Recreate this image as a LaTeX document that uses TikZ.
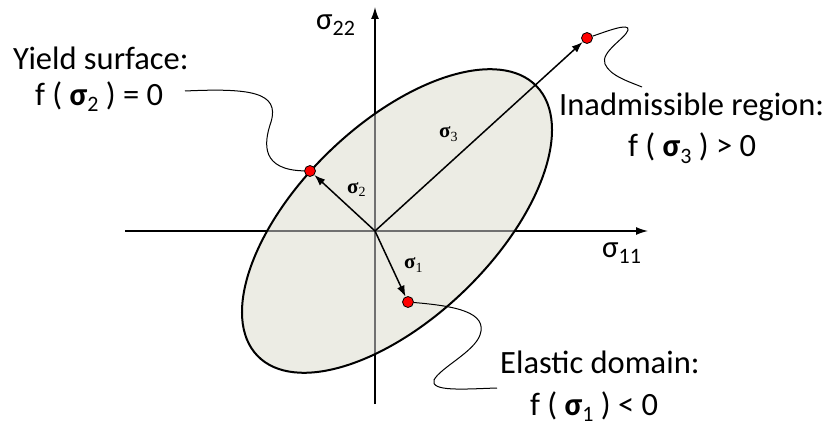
\documentclass[tikz,border=0pt]{standalone}
\usepackage{fontspec}
\setmainfont{Carlito}
\newfontfamily\serifsig{Liberation Serif}
\usetikzlibrary{arrows.meta}
\definecolor{fillc}{HTML}{ECECE4}
\definecolor{axgray}{HTML}{707070}
\newcommand{\subsc}[1]{\raisebox{-6pt}{\fontsize{22}{22}\selectfont #1}}
\newcommand{\vlab}[1]{{\serifsig\fontsize{21}{21}\selectfont\textbf{σ}\raisebox{-4pt}{\fontsize{14}{14}\selectfont #1}}}
\tikzset{
  txt/.style={inner sep=0pt, anchor=base west, font=\fontsize{32.5}{38}\selectfont},
  axtxt/.style={inner sep=0pt, anchor=base west, font=\fontsize{31}{36}\selectfont},
  vtxt/.style={inner sep=0pt, anchor=base west},
  dot/.style={circle, draw=black, fill=red, line width=0.8pt, inner sep=0pt, minimum size=11pt},
  axis/.style={line width=1.3pt, -{Latex[length=12pt,width=8pt]}},
  vec/.style={line width=1.5pt, -{Latex[length=11pt,width=8pt]}},
  conn/.style={line width=1pt},
  ell/.style={rotate around={44:(397,221)}},
}
\begin{document}
\begin{tikzpicture}[x=1pt,y=-1pt]
\useasboundingbox (0,0) rectangle (839,428);
\coordinate (O) at (375,231);
\coordinate (xl) at (125,231);
\coordinate (xr) at (648,231);
\coordinate (yb) at (375,404);
\coordinate (yt) at (375,7);
\coordinate (C) at (397,221);
% axes
\draw[axis] (xl) -- (xr);
\draw[axis] (yb) -- (yt);
% ellipse fill
\fill[fillc, ell] (C) ellipse [x radius=194, y radius=97];
\begin{scope}
  \clip[ell] (C) ellipse [x radius=194, y radius=97];
  \draw[axgray, line width=1.3pt] (xl) -- (xr);
  \draw[axgray, line width=1.3pt] (yb) -- (yt);
\end{scope}
\draw[ell, line width=2pt] (C) ellipse [x radius=194, y radius=97];
% dots
\node[dot] (d1) at (408,302) {};
\node[dot] (d2) at (310,171) {};
\node[dot] (d3) at (587,38) {};
% vectors
\draw[vec] (O) -- (d1);
\draw[vec] (O) -- (d2);
\draw[vec] (O) -- (d3);
% vector labels
\node[vtxt] (l1) at (404,268) {\vlab{1}};
\node[vtxt] (l2) at (347,193) {\vlab{2}};
\node[vtxt] (l3) at (439,137) {\vlab{3}};
% connectors
\coordinate (y2) at (185,91);
\coordinate (y3) at (642,87);
\coordinate (y1) at (497,388);
\draw[conn] (y2) .. controls (250,88) and (280,92) .. (271,122) .. controls (263,145) and (262,170) .. (d2);
\draw[conn] (d3) .. controls (605,32) and (630,22) .. (628,30) .. controls (626,38) and (600,52) .. (605,64) .. controls (610,76) and (630,82) .. (y3);
\draw[conn] (d1) .. controls (455,306) and (488,312) .. (480,335) .. controls (474,352) and (440,368) .. (434,380) .. controls (430,392) and (465,389) .. (y1);
% texts
\node[txt] (t2a) at (13,70) {Yield surface:};
\node[txt] (t2b) at (35,106) {f ( \textbf{σ}\subsc{2} ) = 0};
\node[txt] (t3a) at (559,115) {Inadmissible region:};
\node[txt] (t3b) at (628,157) {f ( \textbf{σ}\subsc{3} ) > 0};
\node[txt] (t1a) at (500,373) {Elastic domain:};
\node[txt] (t1b) at (530,415) {f ( \textbf{σ}\subsc{1} ) < 0};
\node[axtxt] (ax2) at (316,30) {σ\subsc{22}};
\node[axtxt] (ax1) at (602,257) {σ\subsc{11}};
\end{tikzpicture}
\end{document}
